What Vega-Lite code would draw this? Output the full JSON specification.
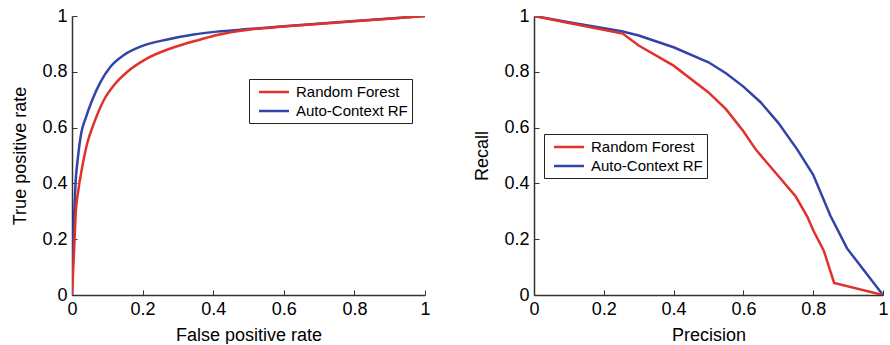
{
  "$schema": "https://vega.github.io/schema/vega-lite/v6.json",
  "padding": {"left": 11, "top": 7, "right": 0, "bottom": 0},
  "spacing": 42,
  "config": {
    "view": {"stroke": null},
    "font": "Liberation Sans",
    "axis": {
      "grid": false,
      "domainColor": "#333333",
      "domainWidth": 1.5,
      "tickColor": "#333333",
      "tickWidth": 1,
      "tickSize": -5,
      "labelFont": "Liberation Sans",
      "labelFontSize": 18,
      "labelColor": "#000000",
      "labelFlush": false,
      "titleFont": "Liberation Sans",
      "titleFontSize": 18,
      "titleFontWeight": "normal",
      "titleColor": "#000000",
      "tickCount": 5,
      "format": "~g"
    },
    "axisX": {"labelPadding": 10, "titlePadding": 8},
    "axisY": {"labelPadding": 10, "titlePadding": 12},
    "legend": {
      "labelFont": "Liberation Sans",
      "labelFontSize": 15,
      "labelColor": "#000000",
      "symbolType": "M-2,0H2",
      "symbolSize": 225,
      "symbolStrokeWidth": 2.5,
      "symbolOffset": 12,
      "strokeColor": "#222222",
      "fillColor": "#ffffff",
      "padding": 4,
      "rowPadding": 2,
      "labelOffset": 13,
      "title": null
    }
  },
  "datasets": {
    "roc": [
      {"model": "Auto-Context RF", "fpr": 0, "tpr": 0},
      {"model": "Auto-Context RF", "fpr": 0.003, "tpr": 0.16},
      {"model": "Auto-Context RF", "fpr": 0.006, "tpr": 0.28},
      {"model": "Auto-Context RF", "fpr": 0.01, "tpr": 0.4},
      {"model": "Auto-Context RF", "fpr": 0.017, "tpr": 0.495},
      {"model": "Auto-Context RF", "fpr": 0.026, "tpr": 0.579},
      {"model": "Auto-Context RF", "fpr": 0.039, "tpr": 0.635},
      {"model": "Auto-Context RF", "fpr": 0.057, "tpr": 0.698},
      {"model": "Auto-Context RF", "fpr": 0.081, "tpr": 0.764},
      {"model": "Auto-Context RF", "fpr": 0.109, "tpr": 0.818},
      {"model": "Auto-Context RF", "fpr": 0.147, "tpr": 0.86},
      {"model": "Auto-Context RF", "fpr": 0.194, "tpr": 0.89},
      {"model": "Auto-Context RF", "fpr": 0.27, "tpr": 0.916},
      {"model": "Auto-Context RF", "fpr": 0.345, "tpr": 0.934},
      {"model": "Auto-Context RF", "fpr": 0.411, "tpr": 0.944},
      {"model": "Auto-Context RF", "fpr": 0.5, "tpr": 0.953},
      {"model": "Auto-Context RF", "fpr": 0.6, "tpr": 0.963},
      {"model": "Auto-Context RF", "fpr": 0.8, "tpr": 0.982},
      {"model": "Auto-Context RF", "fpr": 1, "tpr": 1},
      {"model": "Random Forest", "fpr": 0, "tpr": 0},
      {"model": "Random Forest", "fpr": 0.006, "tpr": 0.16},
      {"model": "Random Forest", "fpr": 0.01, "tpr": 0.28},
      {"model": "Random Forest", "fpr": 0.018, "tpr": 0.375},
      {"model": "Random Forest", "fpr": 0.029, "tpr": 0.459},
      {"model": "Random Forest", "fpr": 0.043, "tpr": 0.543},
      {"model": "Random Forest", "fpr": 0.062, "tpr": 0.615},
      {"model": "Random Forest", "fpr": 0.09, "tpr": 0.698},
      {"model": "Random Forest", "fpr": 0.119, "tpr": 0.752},
      {"model": "Random Forest", "fpr": 0.157, "tpr": 0.8},
      {"model": "Random Forest", "fpr": 0.213, "tpr": 0.848},
      {"model": "Random Forest", "fpr": 0.289, "tpr": 0.888},
      {"model": "Random Forest", "fpr": 0.364, "tpr": 0.916},
      {"model": "Random Forest", "fpr": 0.411, "tpr": 0.932},
      {"model": "Random Forest", "fpr": 0.5, "tpr": 0.951},
      {"model": "Random Forest", "fpr": 0.6, "tpr": 0.962},
      {"model": "Random Forest", "fpr": 0.8, "tpr": 0.981},
      {"model": "Random Forest", "fpr": 1, "tpr": 1}
    ],
    "pr": [
      {"model": "Auto-Context RF", "precision": 0, "recall": 1},
      {"model": "Auto-Context RF", "precision": 0.1, "recall": 0.978},
      {"model": "Auto-Context RF", "precision": 0.251, "recall": 0.945},
      {"model": "Auto-Context RF", "precision": 0.3, "recall": 0.93},
      {"model": "Auto-Context RF", "precision": 0.4, "recall": 0.888},
      {"model": "Auto-Context RF", "precision": 0.5, "recall": 0.834},
      {"model": "Auto-Context RF", "precision": 0.55, "recall": 0.795},
      {"model": "Auto-Context RF", "precision": 0.6, "recall": 0.747},
      {"model": "Auto-Context RF", "precision": 0.65, "recall": 0.69},
      {"model": "Auto-Context RF", "precision": 0.7, "recall": 0.617},
      {"model": "Auto-Context RF", "precision": 0.754, "recall": 0.522},
      {"model": "Auto-Context RF", "precision": 0.8, "recall": 0.431},
      {"model": "Auto-Context RF", "precision": 0.849, "recall": 0.285},
      {"model": "Auto-Context RF", "precision": 0.897, "recall": 0.167},
      {"model": "Auto-Context RF", "precision": 1, "recall": 0},
      {"model": "Random Forest", "precision": 0, "recall": 1},
      {"model": "Random Forest", "precision": 0.1, "recall": 0.975},
      {"model": "Random Forest", "precision": 0.254, "recall": 0.937},
      {"model": "Random Forest", "precision": 0.3, "recall": 0.894},
      {"model": "Random Forest", "precision": 0.4, "recall": 0.822},
      {"model": "Random Forest", "precision": 0.5, "recall": 0.726},
      {"model": "Random Forest", "precision": 0.55, "recall": 0.666},
      {"model": "Random Forest", "precision": 0.6, "recall": 0.587},
      {"model": "Random Forest", "precision": 0.635, "recall": 0.522},
      {"model": "Random Forest", "precision": 0.697, "recall": 0.431},
      {"model": "Random Forest", "precision": 0.75, "recall": 0.353},
      {"model": "Random Forest", "precision": 0.783, "recall": 0.281},
      {"model": "Random Forest", "precision": 0.8, "recall": 0.232},
      {"model": "Random Forest", "precision": 0.83, "recall": 0.16},
      {"model": "Random Forest", "precision": 0.86, "recall": 0.043},
      {"model": "Random Forest", "precision": 1, "recall": 0}
    ]
  },
  "resolve": {"scale": {"color": "independent"}, "legend": {"color": "independent"}},
  "hconcat": [
    {
      "width": 353,
      "height": 279,
      "data": {"name": "roc"},
      "mark": {"type": "line", "interpolate": "monotone", "strokeWidth": 2.5, "clip": true},
      "encoding": {
        "x": {"field": "fpr", "type": "quantitative", "title": "False positive rate", "scale": {"domain": [0, 1]}},
        "y": {"field": "tpr", "type": "quantitative", "title": "True positive rate", "scale": {"domain": [0, 1]}},
        "color": {
          "field": "model", "type": "nominal",
          "scale": {"domain": ["Random Forest", "Auto-Context RF"], "range": ["#e0312a", "#3344a8"]},
          "legend": {"orient": "none", "legendX": 177, "legendY": 63}
        },
        "order": {"field": "fpr", "type": "quantitative"}
      }
    },
    {
      "width": 349,
      "height": 279,
      "data": {"name": "pr"},
      "mark": {"type": "line", "strokeWidth": 2.5, "clip": true},
      "encoding": {
        "x": {"field": "precision", "type": "quantitative", "title": "Precision", "scale": {"domain": [0, 1]}},
        "y": {"field": "recall", "type": "quantitative", "title": "Recall", "scale": {"domain": [0, 1]}},
        "color": {
          "field": "model", "type": "nominal",
          "scale": {"domain": ["Random Forest", "Auto-Context RF"], "range": ["#e0312a", "#3344a8"]},
          "legend": {"orient": "none", "legendX": 10, "legendY": 118}
        },
        "order": {"field": "precision", "type": "quantitative"}
      }
    }
  ]
}
